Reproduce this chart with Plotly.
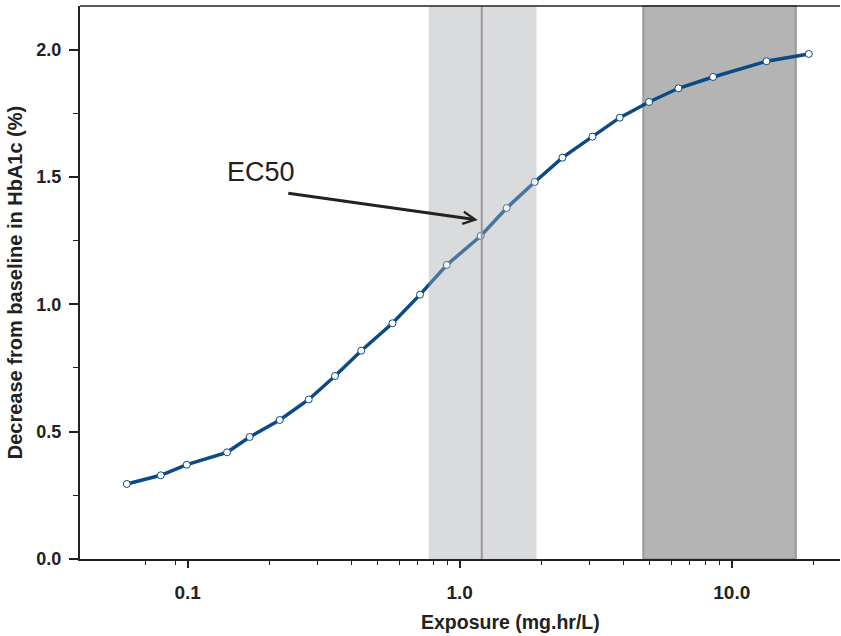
import numpy as np
import plotly.graph_objects as go

# ---- data ----
exposure = [0.0597, 0.0796, 0.0992, 0.1395, 0.169, 0.218, 0.2786, 0.3479, 0.4344,
            0.5657, 0.7145, 0.896, 1.194, 1.488, 1.887, 2.385, 3.075, 3.875,
            4.966, 6.368, 8.537, 13.42, 19.2]
decrease = [0.2945, 0.3286, 0.3702, 0.4189, 0.479, 0.5457, 0.6262, 0.7185, 0.8178,
            0.9254, 1.0377, 1.1543, 1.2682, 1.3781, 1.4802, 1.5756, 1.658, 1.7326,
            1.7943, 1.848, 1.8924, 1.954, 1.9827]
ec50 = 1.205
ec50_band = [0.769, 1.915]
high_band = [4.73, 17.2]
x_tickvals = [0.1, 1.0, 10.0]
x_ticktext = ["0.1", "1.0", "10.0"]
x_minor = [0.07, 0.09, 0.2, 0.3, 0.4, 0.5, 0.6, 0.7, 0.8, 0.9,
           2, 3, 4, 5, 6, 7, 8, 9, 20]
y_tickvals = [0.0, 0.5, 1.0, 1.5, 2.0]
y_ticktext = ["0.0", "0.5", "1.0", "1.5", "2.0"]
arrow_tip = (1.165, 1.331)
label_pos = (0.1852, 1.521)
x_title = "Exposure (mg.hr/L)"
y_title = "Decrease from baseline in HbA1c (%)"

FONT = "Liberation Sans, Arial, sans-serif"
INK = "#222222"
BLUE = "#0B4A86"

fig = go.Figure()
fig.add_trace(go.Scatter(
    x=exposure, y=decrease, mode="lines+markers",
    line=dict(color=BLUE, width=3.5),
    marker=dict(symbol="circle", size=7, color="white",
                line=dict(color=BLUE, width=1)),
    showlegend=False, hoverinfo="skip"))

shapes = [
    dict(type="rect", xref="x", yref="paper", x0=ec50_band[0], x1=ec50_band[1],
         y0=0, y1=1, fillcolor="#DADBDD", line=dict(width=0), layer="below"),
    dict(type="rect", xref="x", yref="paper", x0=ec50_band[0], x1=ec50_band[1],
         y0=0, y1=1, fillcolor="rgba(218,219,221,0.3)", line=dict(width=0), layer="above"),
    dict(type="rect", xref="x", yref="paper", x0=high_band[0], x1=high_band[1],
         y0=0, y1=1, fillcolor="#B4B4B4", line=dict(color="#999999", width=2), layer="below"),
    dict(type="line", xref="x", yref="paper", x0=ec50, x1=ec50, y0=0, y1=1,
         line=dict(color="#999999", width=2), layer="above"),
    dict(type="line", xref="paper", yref="paper", x0=0, x1=1, y0=1, y1=1,
         line=dict(color=INK, width=1.5), layer="above"),
]

annotations = [
    dict(x=np.log10(label_pos[0]), y=label_pos[1], xref="x", yref="y",
         text="EC50", showarrow=False, xanchor="center", yanchor="middle",
         font=dict(family=FONT, size=27, color=INK)),
    dict(x=np.log10(arrow_tip[0]), y=arrow_tip[1], xref="x", yref="y",
         text="", showarrow=True, ax=-191, ay=-27,
         arrowhead=5, arrowsize=0.8, arrowwidth=3, arrowcolor=INK, standoff=0),
    dict(x=0.5658, y=-0.1139, xref="paper", yref="paper",
         text=x_title, showarrow=False, xanchor="center", yanchor="middle",
         font=dict(family=FONT, size=19.5, color=INK, weight="bold")),
]

fig.update_layout(
    width=841, height=636,
    margin=dict(l=80, r=1, t=6, b=77),
    paper_bgcolor="white", plot_bgcolor="white",
    shapes=shapes, annotations=annotations,
    xaxis=dict(
        type="log", range=[-1.396, 1.398],
        showgrid=False, zeroline=False,
        showline=True, linecolor=INK, linewidth=2,
        ticks="outside", ticklen=7, tickwidth=1.5, tickcolor=INK,
        tickvals=x_tickvals, ticktext=x_ticktext,
        tickfont=dict(family=FONT, size=19, color=INK, weight="bold"),
        ticklabelstandoff=8,
        minor=dict(tickvals=x_minor, ticks="outside", ticklen=4,
                   tickwidth=1, tickcolor=INK, showgrid=False),
    ),
    yaxis=dict(
        range=[0, 2.171],
        showgrid=False, zeroline=False,
        showline=True, linecolor=INK, linewidth=2,
        ticks="outside", ticklen=9, tickwidth=1.5, tickcolor=INK,
        tickvals=y_tickvals, ticktext=y_ticktext,
        tickfont=dict(family=FONT, size=18, color=INK, weight="bold"),
        ticklabelstandoff=4,
        minor=dict(dtick=0.25, tick0=0, ticks="outside", ticklen=5,
                   tickwidth=1, tickcolor=INK, showgrid=False),
        title=dict(text=y_title, standoff=8,
                   font=dict(family=FONT, size=20, color=INK, weight="bold")),
    ),
)

fig.write_html("out.html")
